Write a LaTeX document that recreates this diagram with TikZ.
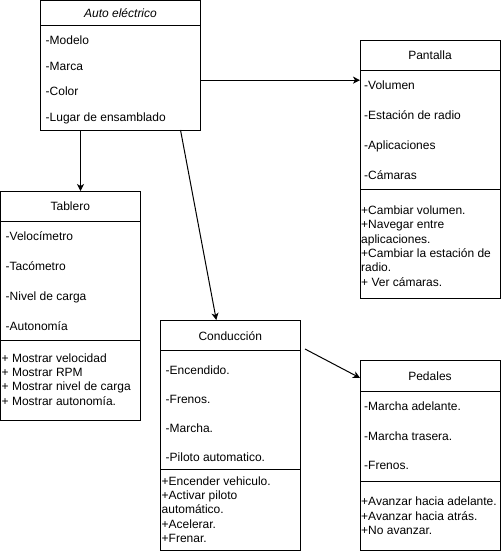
\documentclass[tikz,border=0pt]{standalone}
\usepackage{fontspec}
\setmainfont{Liberation Sans}
\usetikzlibrary{arrows.meta,calc}
\begin{document}
\begin{tikzpicture}[x=1pt,y=-1pt,
  font=\fontsize{12}{14.3}\selectfont,
  box/.style={draw, line width=1pt, anchor=north west, inner sep=0pt, outer sep=0pt, fill=white},
  sepline/.style={line width=1pt},
  hdr/.style={anchor=base, inner sep=0pt},
  attr/.style={anchor=base west, inner sep=0pt},
  meth/.style={anchor=north west, inner sep=0pt, align=left},
  conn/.style={line width=1pt, -{Stealth[length=7pt,width=7pt,inset=2pt]}}]
\useasboundingbox (0,0) rectangle (501,551);

% ---------- boxes ----------
\node[box, minimum width=160pt, minimum height=129.5pt] (auto) at (40.5,0.5) {};
\node[box, minimum width=139.5pt, minimum height=229pt] (tab) at (0.5,191) {};
\node[box, minimum width=139.5pt, minimum height=230pt] (cond) at (160.5,320) {};
\node[box, minimum width=140pt, minimum height=257.5pt] (pant) at (360,40.5) {};
\node[box, minimum width=140pt, minimum height=189.5pt] (ped) at (360,360.5) {};

% ---------- compartment lines ----------
\draw[sepline] ([yshift=-25.5pt]auto.north west) -- ([yshift=-25.5pt]auto.north east);
\draw[sepline] ([yshift=-30pt]tab.north west) -- ([yshift=-30pt]tab.north east);
\draw[sepline] ([yshift=-149pt]tab.north west) -- ([yshift=-149pt]tab.north east);
\draw[sepline] ([yshift=-30pt]cond.north west) -- ([yshift=-30pt]cond.north east);
\draw[sepline] ([yshift=-149.5pt]cond.north west) -- ([yshift=-149.5pt]cond.north east);
\draw[sepline] ([yshift=-29.5pt]pant.north west) -- ([yshift=-29.5pt]pant.north east);
\draw[sepline] ([yshift=-148.5pt]pant.north west) -- ([yshift=-148.5pt]pant.north east);
\draw[sepline] ([yshift=-30.5pt]ped.north west) -- ([yshift=-30.5pt]ped.north east);
\draw[sepline] ([yshift=-120.5pt]ped.north west) -- ([yshift=-120.5pt]ped.north east);

% ---------- Auto eléctrico ----------
\node[hdr, font=\fontsize{12}{14.3}\selectfont\itshape] (autoh) at (120.5,18) {Auto eléctrico};
\node[attr] (autoa1) at (45.5,44.3) {-Modelo};
\node[attr] (autoa2) at (45.5,70.3) {-Marca};
\node[attr] (autoa3) at (45.5,95.3) {-Color};
\node[attr] (autoa4) at (45.5,121.3) {-Lugar de ensamblado};

% ---------- Tablero ----------
\node[hdr] (tabh) at (70.25,210) {Tablero};
\node[attr] (taba1) at (5.5,240) {-Velocímetro};
\node[attr] (taba2) at (5.5,270) {-Tacómetro};
\node[attr] (taba3) at (5.5,300) {-Nivel de carga};
\node[attr] (taba4) at (5.5,330) {-Autonomía};
\node[meth] (tabm) at (1.5,352) {\rule{0pt}{10pt}+ Mostrar velocidad\\+ Mostrar RPM\\+ Mostrar nivel de carga\\+ Mostrar autonomía.};

% ---------- Conducción ----------
\node[hdr] (condh) at (230.25,340) {Conducción};
\node[attr] (conda1) at (165.5,374) {-Encendido.};
\node[attr] (conda2) at (165.5,403) {-Frenos.};
\node[attr] (conda3) at (165.5,432) {-Marcha.};
\node[attr] (conda4) at (165.5,461) {-Piloto automatico.};
\node[meth] (condm) at (161.5,475) {\rule{0pt}{10pt}+Encender vehiculo.\\+Activar piloto\\automático.\\+Acelerar.\\+Frenar.};

% ---------- Pantalla ----------
\node[hdr] (panth) at (430,59.5) {Pantalla};
\node[attr] (panta1) at (364,89.5) {-Volumen};
\node[attr] (panta2) at (364,119.5) {-Estación de radio};
\node[attr] (panta3) at (364,149.5) {-Aplicaciones};
\node[attr] (panta4) at (364,179.5) {-Cámaras};
\node[meth] (pantm) at (361,204.3) {\rule{0pt}{10pt}+Cambiar volumen.\\+Navegar entre\\aplicaciones.\\+Cambiar la estación de\\radio.\\+ Ver cámaras.};

% ---------- Pedales ----------
\node[hdr] (pedh) at (430,380.5) {Pedales};
\node[attr] (peda1) at (364,410.5) {-Marcha adelante.};
\node[attr] (peda2) at (364,440.5) {-Marcha trasera.};
\node[attr] (peda3) at (364,469.5) {-Frenos.};
\node[meth] (pedm) at (361,495.7) {\rule{0pt}{10pt}+Avanzar hacia adelante.\\+Avanzar hacia atrás.\\+No avanzar.};

% ---------- connectors ----------
\coordinate (s1) at ($(auto.south west)!0.25!(auto.south east)$);
\draw[conn] (s1) -- (s1 |- tab.north);

\coordinate (s2) at ($(auto.south west)!0.875!(auto.south east)$);
\coordinate (e2) at ($(cond.north west)!0.4!(cond.north east)$);
\draw[conn] (s2) -- (e2);

\coordinate (s3) at ($(auto.north east)!0.615!(auto.south east)$);
\draw[conn] (s3) -- (s3 -| pant.west);

\coordinate (s4) at ([xshift=5pt,yshift=-29pt]cond.north east);
\coordinate (e4) at ($(ped.north west)!0.092!(ped.south west)$);
\draw[conn] (s4) -- (e4);
\end{tikzpicture}
\end{document}
